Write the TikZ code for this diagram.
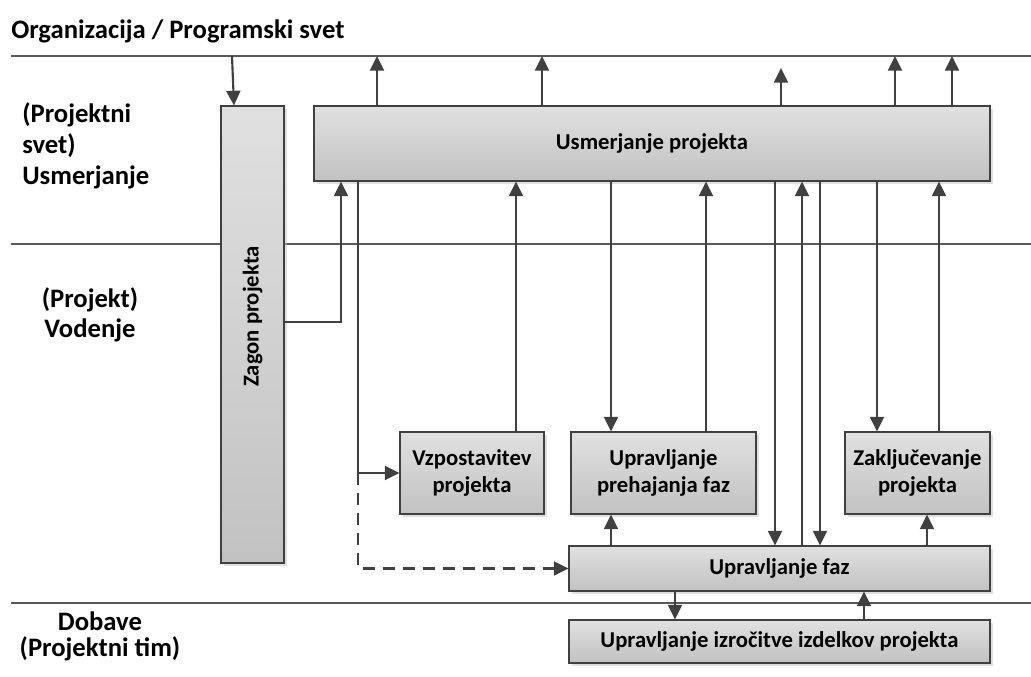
\documentclass[tikz,border=0pt]{standalone}
\usepackage{fontspec}
\setmainfont{Carlito}
\usetikzlibrary{arrows.meta, positioning, fit, shadows}

\begin{document}
\begin{tikzpicture}[
        x=0.75pt, y=-0.75pt,
        % Procesni bloki
        procbox/.style={
                rectangle,
                draw=black!75,
                line width=0.8pt,
                top color=black!12,
                bottom color=black!24,
                inner sep=0pt,
                align=center,
                font=\fontsize{17}{20.5}\bfseries,
                drop shadow={shadow xshift=2.5pt, shadow yshift=-2.5pt, fill=black!25, opacity=0.5}
            },
        % Oznake pasov
        lanelabel/.style={
                font=\fontsize{20}{22.5}\bfseries,
                inner sep=0pt
            },
        % Meje pasov
        lane/.style={
                draw=black!65,
                line width=0.8pt
            },
        % Puscice
        arrow/.style={
                -{Triangle[length=11pt,width=10.5pt]},
                line width=1.6pt,
                draw=black!75
            }
    ]

    \useasboundingbox (0,0) rectangle (1031,677);

    % Pasovi
    \coordinate (orgL) at (11,56);
    \coordinate (orgR) at (1031,56);
    \draw[lane] (orgL) -- (orgR);
    \draw[lane] (11,244) -- (1031,244);
    \draw[lane] (11,603) -- (1031,603);

    \node[lanelabel, anchor=west] (org) at (11,31) {Organizacija / Programski svet};
    \node[lanelabel, anchor=north west, align=left, font=\fontsize{20}{23.5}\bfseries] (usmlbl) at (22,102) {(Projektni\\ svet)\\ Usmerjanje};
    \node[lanelabel, align=center] (vodlbl) at (90,315) {(Projekt)\\ Vodenje};
    \node[lanelabel, align=center, font=\fontsize{20}{19.5}\bfseries] (doblbl) at (100,636) {Dobave\\ (Projektni tim)};

    % Bloki
    \node[procbox, rotate=90, minimum width=457*0.75pt, minimum height=63*0.75pt] (zagon) at (252.5,334.5) {\hspace*{27pt}Zagon projekta\raisebox{0pt}[0pt][0pt]{}};
    \node[procbox, minimum width=676*0.75pt, minimum height=75*0.75pt] (usm) at (652,143.5) {Usmerjanje projekta};
    \node[procbox, minimum width=144*0.75pt, minimum height=82*0.75pt] (vzp) at (472,473) {Vzpostavitev\\ projekta};
    \node[procbox, minimum width=185*0.75pt, minimum height=82*0.75pt] (preh) at (663.5,473) {Upravljanje\\ prehajanja faz};
    \node[procbox, minimum width=145*0.75pt, minimum height=82*0.75pt] (zak) at (917.5,473) {Zaklju\v{c}evanje\\ projekta};
    \node[procbox, minimum width=421*0.75pt, minimum height=45*0.75pt] (faz) at (779.5,568.5) {Upravljanje faz};
    \node[procbox, minimum width=421*0.75pt, minimum height=43*0.75pt] (izr) at (779.5,641.5) {Upravljanje izro\v{c}itve izdelkov projekta};

    % Povezave navzgor
    \draw[arrow] (232,0 |- orgL) -- (234,0 |- zagon.east);
    \foreach \xx in {377,542,895,952}
        \draw[arrow] (\xx,0 |- usm.north) -- (\xx,0 |- orgL);
    \draw[arrow] (781,0 |- usm.north) -- (781,68);

    % Usmerjanje <-> vodenje
    \draw[arrow] (zagon.south |- 0,322) -| (usm.south -| 341,0);
    \draw[arrow] (usm.south -| 358,0) |- (vzp.west);
    \draw[arrow, dash pattern=on 9pt off 6pt] (vzp.west -| 358,0) |- (faz.west);
    \draw[arrow] (vzp.north -| 516,0) -- (usm.south -| 516,0);
    \draw[arrow] (usm.south -| 611,0) -- (preh.north -| 611,0);
    \draw[arrow] (preh.north -| 706,0) -- (usm.south -| 706,0);
    \draw[arrow] (usm.south -| 775,0) -- (faz.north -| 775,0);
    \draw[arrow] (faz.north -| 802,0) -- (usm.south -| 802,0);
    \draw[arrow] (usm.south -| 820,0) -- (faz.north -| 820,0);
    \draw[arrow] (usm.south -| 877,0) -- (zak.north -| 877,0);
    \draw[arrow] (zak.north -| 939,0) -- (usm.south -| 939,0);

    % Faze
    \draw[arrow] (faz.north -| 611,0) -- (preh.south -| 611,0);
    \draw[arrow] (faz.north -| 927,0) -- (zak.south -| 927,0);
    \draw[arrow] (faz.south -| 675,0) -- (izr.north -| 675,0);
    \draw[arrow] (izr.north -| 864,0) -- (faz.south -| 864,0);

\end{tikzpicture}
\end{document}
